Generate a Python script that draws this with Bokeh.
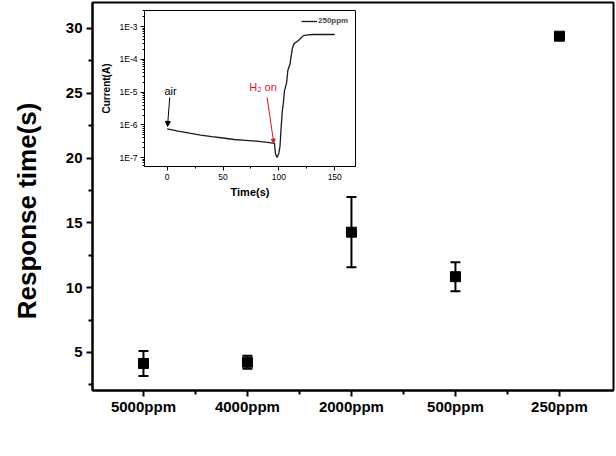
from bokeh.plotting import figure
from bokeh.models import (FixedTicker, Whisker, TeeHead, ColumnDataSource, Label, Arrow,
                          NormalHead, LogTicker, CustomJSTickFormatter, Legend, LegendItem, Range1d)
from bokeh.layouts import column
from bokeh.embed import file_html
from bokeh.resources import INLINE

# ---------------- data ----------------
categories = ["5000ppm", "4000ppm", "2000ppm", "500ppm", "250ppm"]
response_time = [4.15, 4.25, 14.28, 10.85, 29.4]
response_err = [0.97, 0.5, 2.71, 1.12, 0.0]
y_ticks = [5, 10, 15, 20, 25, 30]
y_minor_ticks = [2.5, 7.5, 12.5, 17.5, 22.5, 27.5]

inset_series = "250ppm"
inset_time = [0, 10, 20, 30, 40, 50, 60, 70, 80, 90, 96, 97, 98.5, 100, 101, 102,
              103, 104, 105, 107, 108, 110, 112, 113.5, 118, 122, 126, 131, 140, 150]
inset_current = [7.6e-7, 6.5e-7, 5.6e-7, 4.9e-7, 4.4e-7, 4.0e-7, 3.6e-7, 3.4e-7, 3.2e-7, 2.95e-7,
                 2.75e-7, 1.3e-7, 1.02e-7, 1.4e-7, 2.2e-7, 8.0e-7,
                 2.5e-6, 4.6e-6, 1.1e-5, 2.0e-5, 4.6e-5, 7.4e-5, 2.1e-4, 3.0e-4, 3.9e-4,
                 5.3e-4, 5.6e-4, 5.75e-4, 5.75e-4, 5.75e-4]
inset_x_ticks = [0, 50, 100, 150]
inset_x_minor = [-25, 25, 75, 125, 175]

FONT = "Liberation Sans"

# ---------------- main figure ----------------
pos = [i + 1 for i in range(len(categories))]
src = ColumnDataSource(dict(
    x=pos, y=response_time,
    upper=[v + e for v, e in zip(response_time, response_err)],
    lower=[v - e for v, e in zip(response_time, response_err)],
))

p = figure(width=615, height=440, x_range=Range1d(0.51, 5.52), y_range=Range1d(2.068, 32.0),
           output_backend="svg", toolbar_location=None,
           min_border_left=92, min_border_right=2, min_border_top=2, min_border_bottom=50)
p.xgrid.visible = False
p.ygrid.visible = False
p.outline_line_color = "black"
p.outline_line_width = 2
p.background_fill_color = "white"
p.border_fill_color = "white"

p.xaxis.ticker = FixedTicker(ticks=pos, minor_ticks=[1.5, 2.5, 3.5, 4.5])
p.xaxis.major_label_overrides = {x: c for x, c in zip(pos, categories)}
p.yaxis.ticker = FixedTicker(ticks=y_ticks, minor_ticks=y_minor_ticks)
for ax in (p.xaxis[0], p.yaxis[0]):
    ax.axis_line_width = 2
    ax.axis_line_color = "black"
    ax.major_tick_line_width = 2
    ax.minor_tick_line_width = 2
    ax.major_tick_line_color = "black"
    ax.minor_tick_line_color = "black"
    ax.major_tick_in = 0
    ax.major_tick_out = 6
    ax.minor_tick_in = 0
    ax.minor_tick_out = 4
    ax.major_label_text_font = FONT
    ax.major_label_text_font_style = "bold"
    ax.major_label_text_font_size = "15px"
    ax.major_label_text_color = "black"
    ax.major_label_standoff = 4
p.xaxis.major_label_standoff = 1

# y-axis title; trailing no-break spaces shift it down along the axis as in the reference
p.yaxis.axis_label = "Response time(s)" + "\u00a0" * 4
p.yaxis.axis_label_text_font = FONT
p.yaxis.axis_label_text_font_size = "26px"
p.yaxis.axis_label_text_font_style = "bold"
p.yaxis.axis_label_text_color = "black"
p.yaxis.axis_label_standoff = 21

p.add_layout(Whisker(base="x", upper="upper", lower="lower", source=src,
                     line_color="black", line_width=2,
                     upper_head=TeeHead(size=10, line_width=2, line_color="black"),
                     lower_head=TeeHead(size=10, line_width=2, line_color="black")))
p.scatter("x", "y", source=src, marker="square", size=10, color="black")

# ---------------- inset ----------------
# the column aligns the plots' left borders, so the inset keeps the same 92px border
q = figure(width=305, height=191, x_range=Range1d(-20.3, 168.6), y_range=Range1d(5.4e-8, 3.1e-3),
           y_axis_type="log", output_backend="svg", toolbar_location=None,
           min_border_left=92, min_border_right=2, min_border_top=1, min_border_bottom=34,
           margin=(-431, 0, 240, 52))
q.xgrid.visible = False
q.ygrid.visible = False
q.outline_line_color = "black"
q.outline_line_width = 1
q.background_fill_color = "white"
q.border_fill_alpha = 0

q.xaxis.ticker = FixedTicker(ticks=inset_x_ticks, minor_ticks=inset_x_minor)
q.yaxis.ticker = LogTicker(mantissas=[1], num_minor_ticks=10)
q.yaxis.formatter = CustomJSTickFormatter(code="return '1E' + Math.round(Math.log10(tick));")
q.xaxis.axis_label = "Time(s)"
q.yaxis.axis_label = "Current(A)"
for ax in (q.xaxis[0], q.yaxis[0]):
    ax.axis_line_color = "black"
    ax.major_tick_line_color = "black"
    ax.minor_tick_line_color = "black"
    ax.major_tick_in = 0
    ax.major_tick_out = 4
    ax.minor_tick_in = 0
    ax.minor_tick_out = 2
    ax.major_label_text_font = FONT
    ax.major_label_text_font_size = "8.5px"
    ax.major_label_text_color = "black"
    ax.major_label_standoff = 3
    ax.axis_label_text_font = FONT
    ax.axis_label_text_font_style = "bold"
    ax.axis_label_text_color = "black"
q.xaxis.axis_label_text_font_size = "11px"
q.xaxis.axis_label_standoff = 3
q.yaxis.axis_label_text_font_size = "10px"
q.yaxis.axis_label_standoff = 5

r = q.line(inset_time, inset_current, line_color="#1a1a1a", line_width=1.3)
leg = Legend(items=[LegendItem(label=inset_series, renderers=[r])], location=(157, 141),
             border_line_alpha=0, background_fill_alpha=0, padding=0, margin=0, spacing=0,
             glyph_width=16, glyph_height=8, label_standoff=1, label_height=8,
             label_text_font=FONT, label_text_font_size="8px", label_text_font_style="bold")
q.add_layout(leg)

q.add_layout(Label(x=3, y=1.12e-5, text="air", text_align="center", text_baseline="middle",
                   text_font=FONT, text_font_size="11px", text_color="black"))
q.add_layout(Arrow(x_start=2.3, y_start=6.9e-6, x_end=0.3, y_end=9.0e-7, line_width=1,
                   line_color="black",
                   end=NormalHead(size=5, fill_color="black", line_color="black")))
q.add_layout(Label(x=85.8, y=1.48e-5, text="H\u2082 on", text_align="center", text_baseline="middle",
                   text_font=FONT, text_font_size="11px", text_color="#e3102a"))
q.add_layout(Arrow(x_start=89.5, y_start=6.9e-6, x_end=95.4, y_end=2.8e-7, line_width=1,
                   line_color="#e3102a",
                   end=NormalHead(size=4, fill_color="#e3102a", line_color="#e3102a")))

layout = column(p, q)
open("out.html", "w").write(file_html(layout, INLINE))
